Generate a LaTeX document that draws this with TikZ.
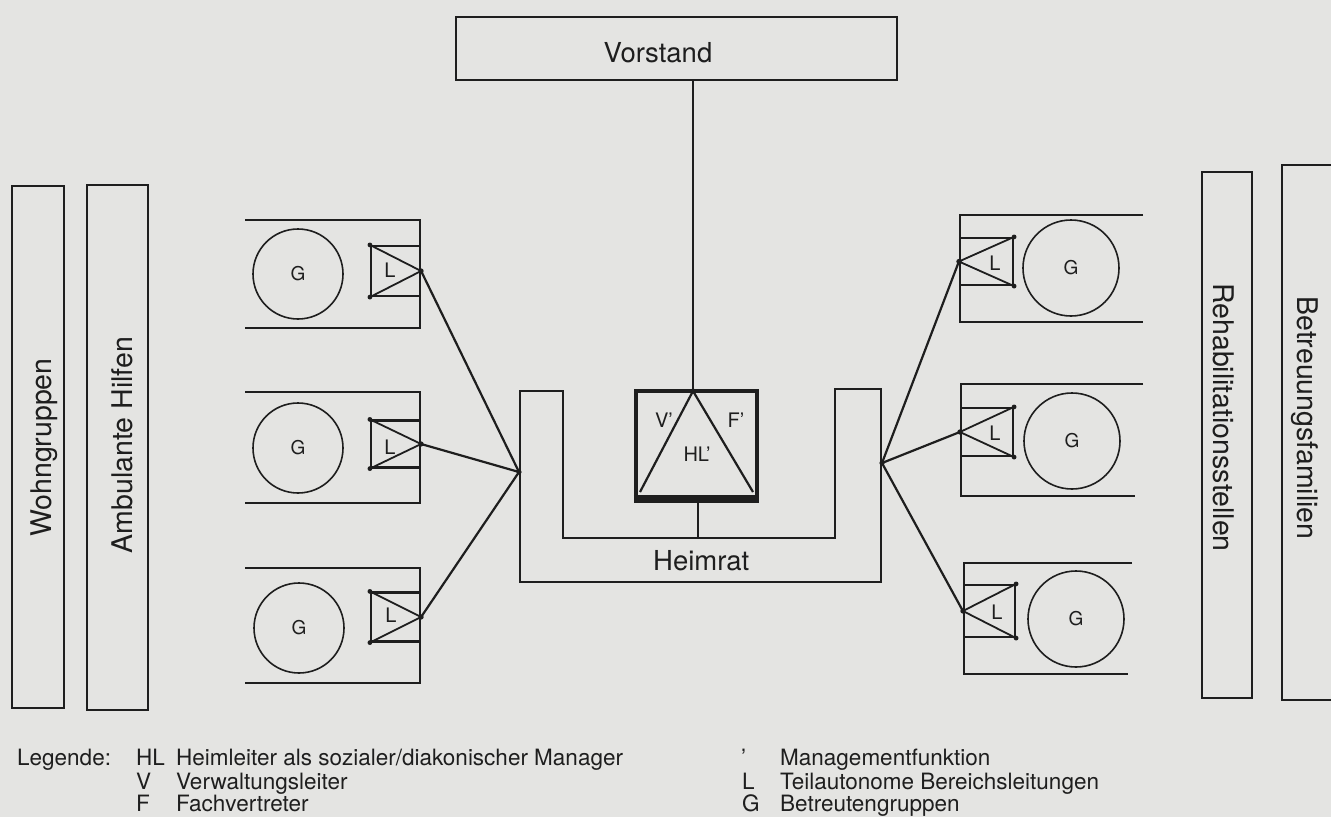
\documentclass[tikz,border=0pt]{standalone}
\usepackage{fontspec}
\setmainfont{TeX Gyre Heros}
\usetikzlibrary{positioning,calc}
\definecolor{cPaper}{HTML}{E4E4E2}
\definecolor{cInk}{HTML}{1E1E1E}

\begin{document}
\begin{tikzpicture}[
  x=1pt, y=-1pt,
  ink/.style={draw=cInk, line width=2.2pt},
  thinink/.style={draw=cInk, line width=1.8pt},
  colbox/.style={ink, inner sep=0pt},
  collbl/.style={font=\fontsize{28.5}{30}\selectfont, text=cInk, inner sep=0pt},
  lbl/.style={font=\fontsize{27.5}{30}\selectfont, text=cInk, inner sep=0pt},
  small/.style={font=\fontsize{20}{22}\selectfont, text=cInk, inner sep=0pt},
  leg/.style={font=\fontsize{22.5}{24}\selectfont, text=cInk, inner sep=0pt,
              anchor=base west},
  hlbox/.style={draw=cInk, line width=4.5pt, inner sep=0pt},
  lbox/.style={ink, inner sep=0pt},
  gcirc/.style={circle, draw=cInk, line width=1.6pt, inner sep=0pt,
                minimum size=#1, font=\fontsize{19}{20}\selectfont, text=cInk},
]
\useasboundingbox (0,0) rectangle (1331,817);
\fill[cPaper] (0,0) rectangle (1331,817);
\clip (0,0) rectangle (1331,817);

% ---- Side columns ----
\node[colbox, minimum width=52pt, minimum height=522pt] (wohn) at (38,447) {};
\node[collbl, rotate=90] (wohntxt) at (44,447.5) {Wohngruppen};
\node[colbox, minimum width=61pt, minimum height=525pt] (ambu) at (117.5,447.5) {};
\node[collbl, rotate=90] (ambutxt) at (122,445) {Ambulante Hilfen};
\node[colbox, minimum width=50pt, minimum height=526pt] (reha) at (1227,435) {};
\node[collbl, rotate=-90] (rehatxt) at (1224,417.5) {Rehabilitationsstellen};
\node[colbox, minimum width=70pt, minimum height=535pt] (fam) at (1317,432.5) {};
\node[collbl, rotate=-90] (famtxt) at (1305,418) {Betreuungsfamilien};

% ---- Vorstand ----
\node[colbox, minimum width=441pt, minimum height=63pt] (vorstand) at (676.5,48.5) {};
\node[lbl, anchor=base] (vorstandtxt) at (658,62) {Vorstand};

% ---- Heimrat with management box ----
\draw[ink] (520,391) -- (563,391) -- (563,538) -- (835,538) -- (835,389)
  -- (881,389) -- (881,582) -- (520,582) -- cycle;
\coordinate (hubL) at (519,472);
\coordinate (hubR) at (882,463);
\coordinate (hrbase) at (698,538);
\node[lbl, anchor=base west] (heimrat) at (653,570) {Heimrat};

\node[hlbox, minimum width=121pt, minimum height=108pt] (hl) at (696.5,445) {};
\draw[cInk, line width=8pt] ([yshift=2pt]hl.south west) -- ([yshift=2pt]hl.south east);
\coordinate (apex) at (693,391);
\draw[ink] (640,492) -- (apex) -- (753,492);
\node[small] (vlbl) at (664,420) {V’};
\node[small] (flbl) at (736,420) {F’};
\node[small] (hllbl) at (697,454) {HL’};

\draw[ink] (vorstand.south -| apex) -- (apex);
\draw[ink] (hl.south -| hrbase) -- (hrbase);

% ---- Left groups ----
\draw[ink] (245,220) -- (420,220) -- (420,328) -- (245,328);
\node[gcirc=90pt] (gL1) at (298,274) {G};
\node[lbox, minimum width=49pt, minimum height=50pt] (lL1) at (395.5,271) {};
\draw[thinink] (lL1.north west) -- (lL1.east) -- (lL1.south west);
\node[small] (lL1t) at (390,270) {L};

\draw[ink] (245,392) -- (420,392) -- (420,503) -- (245,503);
\node[gcirc=90pt] (gL2) at (298,448) {G};
\node[lbox, minimum width=49pt, minimum height=47pt] (lL2) at (395.5,444) {};
\draw[thinink] (lL2.north west) -- (lL2.east) -- (lL2.south west);
\node[small] (lL2t) at (390,447) {L};

\draw[ink] (245,568) -- (420,568) -- (420,683) -- (245,683);
\node[gcirc=90pt] (gL3) at (299,628) {G};
\node[lbox, minimum width=49pt, minimum height=49pt] (lL3) at (395.5,617) {};
\draw[thinink] (lL3.north west) -- (lL3.east) -- (lL3.south west);
\node[small] (lL3t) at (391,615) {L};

% ---- Right groups ----
\draw[ink] (1143,215) -- (960,215) -- (960,322) -- (1143,322);
\node[gcirc=96pt] (gR1) at (1071,268) {G};
\node[lbox, minimum width=53pt, minimum height=47pt] (lR1) at (986.5,261.5) {};
\draw[thinink] (lR1.north east) -- (lR1.west) -- (lR1.south east);
\node[small] (lR1t) at (995,263) {L};

\draw[ink] (1143,384) -- (961,384) -- (961,496) -- (1135,496);
\node[gcirc=96pt] (gR2) at (1072,441) {G};
\node[lbox, minimum width=52pt, minimum height=48pt] (lR2) at (987,432) {};
\draw[thinink] (lR2.north east) -- (lR2.west) -- (lR2.south east);
\node[small] (lR2t) at (995,433) {L};

\draw[ink] (1132,563) -- (964,563) -- (964,674) -- (1128,674);
\node[gcirc=96pt] (gR3) at (1076,619) {G};
\node[lbox, minimum width=51pt, minimum height=52pt] (lR3) at (989.5,611) {};
\draw[thinink] (lR3.north east) -- (lR3.west) -- (lR3.south east);
\node[small] (lR3t) at (997,612) {L};

% ---- Connectors ----
\draw[ink] (hubL) -- (lL1.east);
\draw[ink] (hubL) -- (lL2.east);
\draw[ink] (hubL) -- (lL3.east);
\draw[ink] (hubR) -- (lR1.west);
\draw[ink] (hubR) -- (lR2.west);
\draw[ink] (hubR) -- (lR3.west);

% ink dots at the joints
\foreach \p in {hubL, hubR, apex, lL1.east, lL2.east, lL3.east,
                lR1.west, lR2.west, lR3.west}
  \fill[cInk] (\p) circle[radius=2.6pt];
\foreach \p in {lL1.north west, lL1.south west, lL2.north west, lL2.south west,
                lL3.north west, lL3.south west, lR1.north east, lR1.south east,
                lR2.north east, lR2.south east, lR3.north east, lR3.south east}
  \fill[cInk] (\p) circle[radius=2.4pt];

% ---- Legend ----
\node[leg] (legtitle) at (17,765) {Legende:};
\node[leg] (kHL) at (136,765) {HL};
\node[leg] (dHL) at (176,765) {Heimleiter als sozialer/diakonischer Manager};
\node[leg] (kV) at (136,789) {V};
\node[leg] (dV) at (176,789) {Verwaltungsleiter};
\node[leg] (kF) at (136,811) {F};
\node[leg] (dF) at (176,811) {Fachvertreter};
\node[leg] (kM) at (741,765) {’};
\node[leg] (dM) at (780,765) {Managementfunktion};
\node[leg] (kL) at (742,789) {L};
\node[leg] (dL) at (780,789) {Teilautonome Bereichsleitungen};
\node[leg] (kG) at (742,811) {G};
\node[leg] (dG) at (780,811) {Betreutengruppen};

\end{tikzpicture}
\end{document}
